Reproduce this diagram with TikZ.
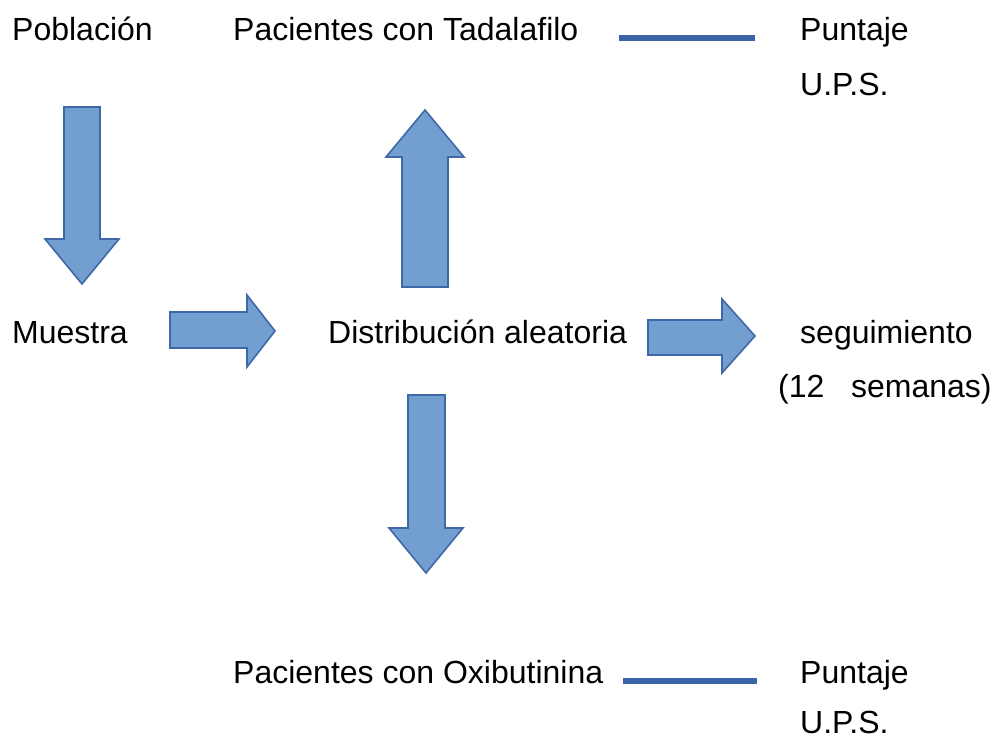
\documentclass[tikz,border=0pt]{standalone}
\usepackage{fontspec}
\setmainfont{Liberation Sans}
\usetikzlibrary{positioning}
\definecolor{azulrelleno}{RGB}{114,159,208}
\definecolor{azulborde}{RGB}{62,104,168}
\definecolor{azullinea}{RGB}{58,99,168}

\begin{document}
\begin{tikzpicture}[x=1pt,y=-1pt,
  texto/.style={anchor=base west,inner sep=0pt,font=\fontsize{32}{38}\selectfont},
  flecha/.style={fill=azulrelleno,draw=azulborde,line width=1.6pt,line join=miter},
  linea/.style={draw=azullinea,line width=6pt}]
\useasboundingbox (0,0) rectangle (995,738);
% textos
\node[texto] (pob) at (12,41) {Población};
\node[texto] (tad) at (233,41) {Pacientes con Tadalafilo};
\node[texto] (punt1) at (800,41) {Puntaje};
\node[texto] (ups1) at (800,96) {U.P.S.};
\node[texto] (mue) at (12,343) {Muestra};
\node[texto] (dist) at (328,343) {Distribución aleatoria};
\node[texto] (seg) at (800,343) {seguimiento};
\node[texto] (sem) at (778,397) {(12~~~semanas)};
\node[texto] (oxi) at (233,683) {Pacientes con Oxibutinina};
\node[texto] (punt2) at (800,683) {Puntaje};
\node[texto] (ups2) at (800,733) {U.P.S.};
% flechas de bloque
\draw[flecha] (64,107) -- (100,107) -- (100,239) -- (119,239) -- (82,284) -- (45,239) -- (64,239) -- cycle;
\draw[flecha] (170,312) -- (247,312) -- (247,295) -- (275,331) -- (247,367) -- (247,348) -- (170,348) -- cycle;
\draw[flecha] (402,287) -- (402,157) -- (386,157) -- (425,110) -- (464,157) -- (448,157) -- (448,287) -- cycle;
\draw[flecha] (648,320) -- (722,320) -- (722,299) -- (755,336) -- (722,373) -- (722,355) -- (648,355) -- cycle;
\draw[flecha] (408,395) -- (445,395) -- (445,528) -- (463,528) -- (426,573) -- (389,528) -- (408,528) -- cycle;
% lineas
\draw[linea] ([xshift=40pt,yshift=3pt]tad.base east) -- ([xshift=-45pt,yshift=3pt]punt1.base west);
\draw[linea] ([xshift=20pt,yshift=2pt]oxi.base east) -- ([xshift=-43pt,yshift=2pt]punt2.base west);
\end{tikzpicture}
\end{document}
